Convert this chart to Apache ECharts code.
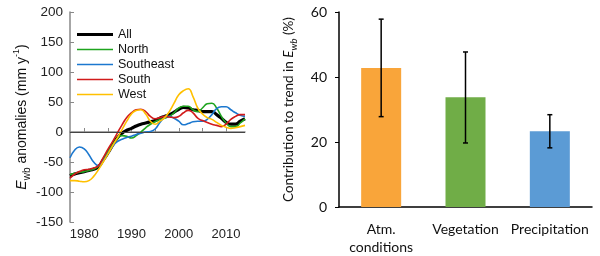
<!DOCTYPE html>
<html>
<head>
<meta charset="utf-8">
<script src="https://cdn.jsdelivr.net/npm/echarts@6/dist/echarts.min.js"></script>
<style>html,body{margin:0;padding:0;background:#fff}#c{width:600px;height:256px}</style>
</head>
<body>
<div id="c"></div>
<script>
const years = [1977,1978,1979,1980,1981,1982,1983,1984,1985,1986,1987,1988,1989,1990,1991,1992,1993,1994,1995,1996,1997,1998,1999,2000,2001,2002,2003,2004,2005,2006,2007,2008,2009,2010,2011,2012,2013,2014];
const allVals = [-73,-70,-68,-66,-64,-62,-58,-47,-35,-22,-10,-2,3,6,10,13,15,17,19,23,26,29,33,38,41,40,37,36,34,34,34,29,23,16,13,13,18,22];
const northVals = [-71,-69,-67,-66,-64,-62,-57,-46,-33,-21,-11,-6,-7,-10,-6,0,7,13,17,21,23,26,32,40,43,43,37,34,40,47,48,40,26,15,9,9,15,22];
const southeastVals = [-43,-30,-25,-28,-38,-50,-56,-48,-36,-24,-16,-12,-9,-7,-4,-2,0,1,5,16,24,26,23,18,12,14,17,18,18,21,29,39,42,42,37,32,28,26];
const southVals = [-77,-70,-66,-63,-62,-60,-56,-43,-29,-16,-2,12,24,32,37,38,34,26,22,24,26,25,24,26,32,36,32,23,19,16,13,11,9,13,21,26,29,29];
const westVals = [-81,-81,-82,-83,-81,-74,-63,-50,-37,-23,-10,4,18,30,36,37,30,18,13,18,24,34,48,62,69,72,59,40,30,24,21,16,11,8,6,7,9,11];
const lineNames = ['All','North','Southeast','South','West'];
const leftTicks = [-150,-100,-50,0,50,100,150,200];

const barCats = ['Atm.\nconditions','Vegetation','Precipitation'];
const barVals = [42.8, 33.8, 23.3];
const errLow = [27.8, 19.7, 18.2];
const errHigh = [57.8, 47.7, 28.4];
const rightTicks = [0,20,40,60];

const lineColors = ['#000000','#1ea41e','#1c78cf','#d11b1b','#ffc000'];
const barColors = ['#f9a53a','#70ad47','#5b9bd5'];
const seriesVals = [allVals, northVals, southeastVals, southVals, westVals];

const chart = echarts.init(document.getElementById('c'), null, {renderer:'canvas'});
const lineSeries = seriesVals.map((v,i)=>({
  name: lineNames[i], type:'line', xAxisIndex:0, yAxisIndex:0,
  data: v, smooth: true, symbol:'none', showSymbol:false, z: i===0?2:3,
  lineStyle:{color: lineColors[i], width: i===0?3.2:1.6},
  itemStyle:{color: lineColors[i]},
  markLine: i===0 ? {silent:true, symbol:'none', label:{show:false},
     lineStyle:{color:'#444', width:1, type:'solid'}, data:[{yAxis:0}]} : undefined
}));

const option = {
  animation:false,
  grid:[
    {left:70, top:12, width:175, height:210},
    {left:339, top:12, width:253, height:195}
  ],
  legend:{
    orient:'vertical', left:77, top:28, padding:0, itemWidth:36, itemHeight:12, itemGap:2,
    itemTextGap:4,
    data: lineNames.map((n,i)=>({name:n,
      icon: i===0 ? 'path://M0,0L36,0L36,3.2L0,3.2Z' : 'path://M0,0L36,0L36,1.7L0,1.7Z'})),
    textStyle:{fontFamily:'Liberation Sans', fontSize:12.5, color:'#111'}
  },
  xAxis:[
    {type:'category', gridIndex:0, data: years, boundaryGap:false,
     axisLine:{lineStyle:{color:'#888', width:1.5}},
     axisTick:{inside:true, length:4, lineStyle:{color:'#888'}, interval:(i,v)=>Number(v)%5===0},
     axisLabel:{interval:(i,v)=>Number(v)%10===0, margin:6, fontFamily:'Liberation Sans', fontSize:13, color:'#222'},
     splitLine:{show:false}},
    {type:'category', gridIndex:1, data: barCats,
     axisLine:{lineStyle:{color:'#000', width:1.5}},
     axisTick:{show:false},
     axisLabel:{margin:13, fontFamily:'Lato', fontSize:14, color:'#111', lineHeight:18, interval:0},
     splitLine:{show:false}}
  ],
  yAxis:[
    {type:'value', gridIndex:0, min:leftTicks[0], max:leftTicks[leftTicks.length-1], interval:50,
     axisLine:{show:true, lineStyle:{color:'#888', width:1.5}},
     axisTick:{show:true, inside:true, length:4, lineStyle:{color:'#888'}},
     axisLabel:{margin:7, fontFamily:'Liberation Sans', fontSize:13.5, color:'#222'},
     splitLine:{show:false},
     name:'{i|E}{sub|wb}{t| anomalies (mm y}{sup|-1}{t|)}', nameLocation:'middle', nameGap:36,
     nameTextStyle:{fontFamily:'Liberation Sans', fontSize:14, color:'#111',
       rich:{
         t:{fontFamily:'Liberation Sans', fontSize:14, color:'#111', lineHeight:20},
         i:{fontFamily:'Liberation Sans', fontSize:14, fontStyle:'italic', color:'#111', lineHeight:20},
         sub:{fontFamily:'Liberation Sans', fontSize:10, color:'#111', verticalAlign:'bottom', lineHeight:10},
         sup:{fontFamily:'Liberation Sans', fontSize:9, color:'#111', verticalAlign:'top', lineHeight:10}
       }}},
    {type:'value', gridIndex:1, min:rightTicks[0], max:rightTicks[rightTicks.length-1], interval:20,
     axisLine:{show:true, lineStyle:{color:'#000', width:1.5}},
     axisTick:{show:true, length:4, lineStyle:{color:'#000'}},
     axisLabel:{margin:12, fontFamily:'Lato', fontSize:14, color:'#111'},
     splitLine:{show:false},
     name:'{t|Contribution to trend in }{i|E}{sub|wb}{t| (%)}', nameLocation:'middle', nameGap:40,
     nameTextStyle:{fontFamily:'Lato', fontSize:13.5, color:'#111',
       rich:{
         t:{fontFamily:'Lato', fontSize:13.5, color:'#111', lineHeight:20},
         i:{fontFamily:'Lato', fontSize:13.5, fontStyle:'italic', color:'#111', lineHeight:20},
         sub:{fontFamily:'Lato', fontSize:9.5, fontStyle:'italic', color:'#111', verticalAlign:'bottom', lineHeight:10}
       }}}
  ],
  series: lineSeries.concat([
    {type:'bar', xAxisIndex:1, yAxisIndex:1, barWidth:40,
     data: barVals.map((v,i)=>({value:v, itemStyle:{color:barColors[i]}}))},
    {type:'custom', xAxisIndex:1, yAxisIndex:1, z:5,
     data: barVals.map((v,i)=>[i, errLow[i], errHigh[i]]),
     renderItem:(params, api)=>{
       const lo = api.coord([api.value(0), api.value(1)]);
       const hi = api.coord([api.value(0), api.value(2)]);
       const x = lo[0], w = 2.5;
       const st = {stroke:'#000', lineWidth:1.5};
       return {type:'group', children:[
         {type:'line', shape:{x1:x, y1:lo[1], x2:x, y2:hi[1]}, style:st},
         {type:'line', shape:{x1:x-w, y1:lo[1], x2:x+w, y2:lo[1]}, style:st},
         {type:'line', shape:{x1:x-w, y1:hi[1], x2:x+w, y2:hi[1]}, style:st}
       ]};
     }}
  ])
};
chart.setOption(option);
</script>
</body>
</html>
